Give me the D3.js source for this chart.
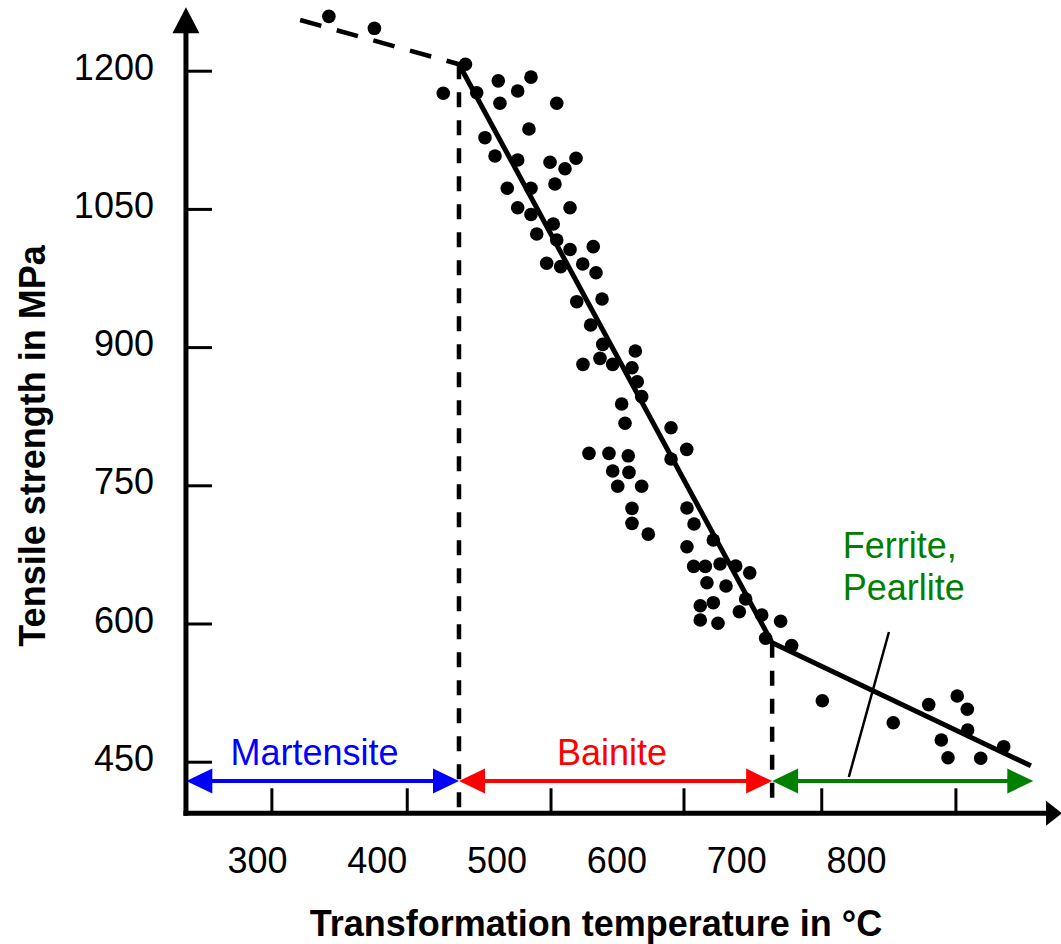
<!DOCTYPE html>
<html lang="en">
<head>
<meta charset="utf-8">
<style>
body {
  margin: 0;
  background: #fff;
}

svg {
  display: block;
  font-family: "Liberation Sans", Arial, Helvetica, sans-serif;
}

.axis path.domain {
  display: none;
}

.axis line {
  stroke: #000;
  stroke-width: 3;
}

.axis text {
  font-family: "Liberation Sans", Arial, Helvetica, sans-serif;
  font-size: 36px;
  fill: #000;
}

.title {
  font-size: 36px;
  font-weight: bold;
}

.phase {
  font-size: 36px;
}
</style>
</head>
<body>
<script src="https://d3js.org/d3.v7.min.js"></script>
<script>

var width = 1061,
    height = 944;

// measured points: transformation temperature (°C) and tensile strength (MPa)
var temps = [
  360, 398, 474, 455.5, 483.4, 501.4, 502.8, 517.6, 528.7, 550.2,
  527, 490.3, 498.7, 517.6, 544.6, 566.3, 557.1, 548.7, 508.9, 528.7,
  517.6, 561.3, 528.7, 547.3, 533.5, 550.2, 561.3, 580.7, 541.8, 553.5,
  571.9, 583, 566.9, 588, 578.5, 588.6, 615.8, 586.3, 572.1, 596.9,
  613, 617.4, 621.1, 604.4, 607.2, 645.6, 658.7, 645.6, 577.1, 593.8,
  609.9, 596.9, 610.5, 601.1, 621.1, 613, 613, 626.6, 658.9, 664.8,
  680.9, 658.9, 664.5, 674.2, 686.5, 699.6, 711.3, 675.6, 691.5, 707.9,
  670, 680.9, 702.6, 721.3, 737.1, 670, 684.8, 724.6, 746.3, 771.9,
  831.1, 860.7, 884.5, 892.9, 893.2, 871.2, 876.8, 904.1, 923.3
];
var strengths = [
  1259, 1246, 1207, 1175.5, 1176, 1189, 1164.6, 1178, 1193, 1164.6,
  1136.7, 1127.3, 1107.4, 1103.1, 1100.6, 1105, 1093.6, 1077, 1072.4, 1072.4,
  1051.3, 1051.3, 1044, 1033.6, 1022.8, 1016.2, 1006, 1009, 991, 987.3,
  990.2, 980.7, 949.3, 952.2, 924, 903, 895.8, 887.8, 881.3, 881.3,
  877.6, 862.4, 846.2, 838.2, 817.3, 812.5, 789, 778.5, 784.7, 784.7,
  782, 765.5, 764, 749, 749, 725, 708.7, 697, 725.4, 708,
  690.6, 683.3, 662, 662, 664.6, 662.4, 655, 644.3, 640.7, 626.6,
  619.3, 622.6, 612.8, 609.2, 602.4, 603.8, 600.2, 584, 576, 516.2,
  492.3, 512, 521.3, 507, 484.4, 473.5, 454.3, 453.7, 466.3
];

var xLabels = [300, 400, 500, 600, 700, 800];
var xTickMarks = [312, 425, 545, 656, 771, 883];   // the marks don't sit under the labels in the figure
var yLabels = [450, 600, 750, 900, 1050, 1200];

// trend lines (°C, MPa)
var fitDashed = [[336, 1255], [468.6, 1207]];
var fitSolid = [[468.6, 1207], [730, 579], [946, 445.5]];

// phase boundaries
var boundaryTemps = [468.6, 730];
var boundaryTop = [1207, 579];
var boundaryBottom = 400;

// phase ranges drawn as double arrows
var phaseNames = ["Martensite", "Bainite", "Ferrite, Pearlite"];
var phaseFrom = [241, 468.6, 730];
var phaseTo = [468.6, 730, 948];
var phaseColors = ["#0000ff", "#ff0000", "#008000"];
var arrowLevel = 429;

// phase label anchors (°C, MPa baseline)
var labelText = ["Martensite", "Bainite"];
var labelT = [348, 596.3];
var labelM = [446, 446];
var fpLines = ["Ferrite,", "Pearlite"];
var fpT = 789;
var fpM = [671, 625.5];
var pointer = [[794, 433.4], [827.5, 590.8]];

var xMin = 240.7, xMax = 972,
    yMin = 394, yMax = 1269;

var x = d3.scaleLinear()
    .domain([300, 800])
    .range([257, 856]);

var y = d3.scaleLinear()
    .domain([450, 1200])
    .range([761.7, 70.7]);

var svg = d3.select("body").append("svg")
    .attr("width", width)
    .attr("height", height);

var line = d3.line()
    .x(function(d) { return x(d[0]); })
    .y(function(d) { return y(d[1]); });

var x0 = x(xMin), y0 = y(yMin);

// axes lines with arrow tips
svg.append("line")
    .attr("x1", x0).attr("y1", y0 + 2.5)
    .attr("x2", x0).attr("y2", y(yMax) + 24)
    .attr("stroke", "#000").attr("stroke-width", 5);
svg.append("path")
    .attr("d", "M" + x0 + "," + y(yMax) + "L" + (x0 - 13.5) + "," + (y(yMax) + 26) +
               "L" + (x0 + 13.5) + "," + (y(yMax) + 26) + "Z")
    .attr("fill", "#000");

svg.append("line")
    .attr("x1", x0 - 2.5).attr("y1", y0)
    .attr("x2", x(xMax) - 14).attr("y2", y0)
    .attr("stroke", "#000").attr("stroke-width", 5);
svg.append("path")
    .attr("d", "M" + x(xMax) + "," + y0 + "L" + (x(xMax) - 16) + "," + (y0 - 12.5) +
               "L" + (x(xMax) - 16) + "," + (y0 + 12.5) + "Z")
    .attr("fill", "#000");

// y axis: inward ticks + labels
svg.append("g")
    .attr("class", "axis")
    .attr("transform", "translate(" + x0 + ",0)")
    .call(d3.axisLeft(y)
        .tickValues(yLabels)
        .tickFormat(d3.format("d"))
        .tickSizeInner(-26)
        .tickSizeOuter(0)
        .tickPadding(32))
    .selectAll("text")
    .attr("dy", "0.24em");

// x axis: labels, then the tick marks on their own
svg.append("g")
    .attr("class", "axis")
    .attr("transform", "translate(0," + y0 + ")")
    .call(d3.axisBottom(x)
        .tickValues(xLabels)
        .tickFormat(d3.format("d"))
        .tickSize(0)
        .tickPadding(34));

svg.append("g")
    .attr("class", "axis")
    .attr("transform", "translate(0," + y0 + ")")
    .call(d3.axisBottom(x)
        .tickValues(xTickMarks)
        .tickSizeInner(-25)
        .tickSizeOuter(0)
        .tickFormat(""));

// phase boundaries
svg.selectAll(".boundary")
    .data(boundaryTemps)
    .enter().append("line")
    .attr("class", "boundary")
    .attr("x1", function(d) { return x(d); })
    .attr("x2", function(d) { return x(d); })
    .attr("y1", function(d, i) { return y(boundaryTop[i]); })
    .attr("y2", y(boundaryBottom))
    .attr("stroke", "#000")
    .attr("stroke-width", 4.5)
    .attr("stroke-dasharray", "15,13");

// phase arrows
var ay = y(arrowLevel);
var headL = 26, headH = 12.5;
phaseNames.forEach(function(name, i) {
  var a = x(phaseFrom[i]), b = x(phaseTo[i]);
  var g = svg.append("g").attr("fill", phaseColors[i]);
  g.append("line")
      .attr("x1", a + headL - 2).attr("x2", b - headL + 2)
      .attr("y1", ay).attr("y2", ay)
      .attr("stroke", phaseColors[i])
      .attr("stroke-width", 4);
  g.append("path")
      .attr("d", "M" + a + "," + ay + "L" + (a + headL) + "," + (ay - headH) +
                 "L" + (a + headL) + "," + (ay + headH) + "Z");
  g.append("path")
      .attr("d", "M" + b + "," + ay + "L" + (b - headL) + "," + (ay - headH) +
                 "L" + (b - headL) + "," + (ay + headH) + "Z");
});

// trend lines
svg.append("path")
    .datum(fitDashed)
    .attr("d", line)
    .attr("fill", "none")
    .attr("stroke", "#000")
    .attr("stroke-width", 4.5)
    .attr("stroke-dasharray", "22,16");

svg.append("path")
    .datum(fitSolid)
    .attr("d", line)
    .attr("fill", "none")
    .attr("stroke", "#000")
    .attr("stroke-width", 5)
    .attr("stroke-linejoin", "round");

// pointer line from the ferrite/pearlite arrow to the trend
svg.append("path")
    .datum(pointer)
    .attr("d", line)
    .attr("fill", "none")
    .attr("stroke", "#000")
    .attr("stroke-width", 2.5);

// points
svg.selectAll(".dot")
    .data(temps)
    .enter().append("circle")
    .attr("class", "dot")
    .attr("cx", function(d) { return x(d); })
    .attr("cy", function(d, i) { return y(strengths[i]); })
    .attr("r", 6.8)
    .attr("fill", "#000");

// phase labels
svg.selectAll(".phase-label")
    .data(labelText)
    .enter().append("text")
    .attr("class", "phase")
    .attr("x", function(d, i) { return x(labelT[i]); })
    .attr("y", function(d, i) { return y(labelM[i]); })
    .attr("text-anchor", "middle")
    .attr("fill", function(d, i) { return phaseColors[i]; })
    .text(function(d) { return d; });

svg.selectAll(".fp-label")
    .data(fpLines)
    .enter().append("text")
    .attr("class", "phase")
    .attr("x", x(fpT))
    .attr("y", function(d, i) { return y(fpM[i]); })
    .attr("fill", phaseColors[2])
    .text(function(d) { return d; });

// axis titles
svg.append("text")
    .attr("class", "title")
    .attr("x", 596)
    .attr("y", 936)
    .attr("text-anchor", "middle")
    .text("Transformation temperature in °C");

svg.append("text")
    .attr("class", "title")
    .attr("transform", "translate(45,446) rotate(-90)")
    .attr("text-anchor", "middle")
    .text("Tensile strength in MPa");

</script>
</body>
</html>
